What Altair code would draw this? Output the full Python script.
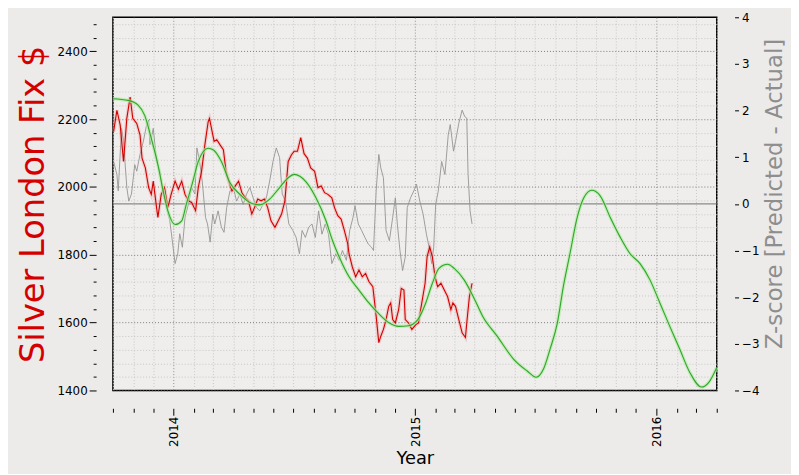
import altair as alt
import pandas as pd

# ---------------- data ----------------
red_dates = [
    "2013-10-02", "2013-10-07", "2013-10-12", "2013-10-17", "2013-10-22", "2013-10-27", "2013-10-31",
    "2013-11-06", "2013-11-11", "2013-11-14", "2013-11-19", "2013-11-24", "2013-11-28",
    "2013-12-01", "2013-12-06", "2013-12-08", "2013-12-13", "2013-12-18", "2013-12-23", "2013-12-28",
    "2014-01-03", "2014-01-08", "2014-01-13", "2014-01-18", "2014-01-23", "2014-01-28",
    "2014-02-03", "2014-02-07", "2014-02-12", "2014-02-17", "2014-02-22", "2014-02-24", "2014-02-28",
    "2014-03-03", "2014-03-07", "2014-03-12", "2014-03-17", "2014-03-21", "2014-03-25", "2014-03-30",
    "2014-04-04", "2014-04-09", "2014-04-14", "2014-04-19", "2014-04-24", "2014-04-29",
    "2014-05-03", "2014-05-08", "2014-05-13", "2014-05-18", "2014-05-23", "2014-05-28",
    "2014-06-03", "2014-06-08", "2014-06-13", "2014-06-18", "2014-06-23", "2014-06-28",
    "2014-07-02", "2014-07-07", "2014-07-12", "2014-07-17", "2014-07-22", "2014-07-27",
    "2014-08-02", "2014-08-07", "2014-08-12", "2014-08-17", "2014-08-22", "2014-08-28",
    "2014-09-01", "2014-09-06", "2014-09-11", "2014-09-16", "2014-09-21", "2014-09-23", "2014-09-28",
    "2014-10-03", "2014-10-08", "2014-10-13", "2014-10-18", "2014-10-23", "2014-10-29",
    "2014-11-03", "2014-11-07", "2014-11-10", "2014-11-14", "2014-11-18", "2014-11-22", "2014-11-25", "2014-11-28",
    "2014-12-02", "2014-12-07", "2014-12-11", "2014-12-15", "2014-12-17", "2014-12-22", "2014-12-27",
    "2015-01-02", "2015-01-06", "2015-01-11", "2015-01-16", "2015-01-19", "2015-01-23", "2015-01-27", "2015-01-31",
    "2015-02-04", "2015-02-09", "2015-02-14", "2015-02-19", "2015-02-24", "2015-02-27",
    "2015-03-03", "2015-03-08", "2015-03-13", "2015-03-18", "2015-03-20", "2015-03-24", "2015-03-28",
]
red_values = [
    2163, 2226, 2182, 2075, 2202, 2265, 2202,
    2187, 2153, 2085, 2056, 1998, 1978,
    2017, 1939, 1910, 1978, 1998, 1939, 1978,
    2017, 1993, 2017, 1978, 1959, 1954,
    1930, 1998, 2046, 2124, 2192, 2202, 2163,
    2134, 2139, 2124, 2110, 2046, 2017, 1988,
    2003, 2017, 1983, 1968, 1959, 1920,
    1939, 1964, 1959, 1964, 1939, 1900,
    1881, 1900, 1920, 1959, 2075, 2095,
    2105, 2105, 2145, 2098, 2085, 2056,
    2046, 1998, 2003, 1983, 1978, 1968,
    1939, 1915, 1905, 1871, 1833, 1803, 1764,
    1735, 1755, 1735, 1745, 1721, 1706,
    1619, 1541, 1560, 1580, 1609, 1648, 1658, 1609,
    1599, 1638, 1701, 1696, 1609, 1599, 1580,
    1594, 1599, 1658, 1716, 1794, 1823, 1794, 1735,
    1706, 1716, 1696, 1677, 1638, 1658,
    1648, 1609, 1570, 1556, 1599, 1677, 1716,
]

z_dates = [
    "2013-10-02", "2013-10-07", "2013-10-09", "2013-10-14", "2013-10-17", "2013-10-22", "2013-10-25", "2013-10-29",
    "2013-11-03", "2013-11-06", "2013-11-11", "2013-11-16", "2013-11-21", "2013-11-24", "2013-11-26",
    "2013-12-01", "2013-12-06", "2013-12-11", "2013-12-16", "2013-12-21", "2013-12-26", "2013-12-31",
    "2014-01-03", "2014-01-07", "2014-01-10", "2014-01-14", "2014-01-18", "2014-01-23", "2014-01-28",
    "2014-02-02", "2014-02-05", "2014-02-09", "2014-02-13", "2014-02-18", "2014-02-21", "2014-02-25",
    "2014-03-01", "2014-03-04", "2014-03-09", "2014-03-14", "2014-03-18", "2014-03-22", "2014-03-27",
    "2014-04-01", "2014-04-06", "2014-04-11", "2014-04-16", "2014-04-21", "2014-04-26",
    "2014-05-01", "2014-05-06", "2014-05-11", "2014-05-16", "2014-05-21", "2014-05-26", "2014-05-31",
    "2014-06-05", "2014-06-10", "2014-06-14", "2014-06-19", "2014-06-24", "2014-06-30",
    "2014-07-05", "2014-07-10", "2014-07-14", "2014-07-19", "2014-07-24", "2014-07-29",
    "2014-08-03", "2014-08-08", "2014-08-13", "2014-08-18", "2014-08-23", "2014-08-28",
    "2014-09-03", "2014-09-08", "2014-09-13", "2014-09-19", "2014-09-24", "2014-09-29",
    "2014-10-02", "2014-10-07", "2014-10-12", "2014-10-17", "2014-10-22", "2014-10-27", "2014-10-30",
    "2014-11-03", "2014-11-07", "2014-11-10", "2014-11-14", "2014-11-18", "2014-11-23", "2014-11-28",
    "2014-12-02", "2014-12-05", "2014-12-09", "2014-12-13", "2014-12-17", "2014-12-20", "2014-12-25", "2014-12-30",
    "2015-01-03", "2015-01-08", "2015-01-13", "2015-01-18", "2015-01-22", "2015-01-26", "2015-01-29",
    "2015-02-01", "2015-02-05", "2015-02-10", "2015-02-15", "2015-02-20", "2015-02-23", "2015-02-28",
    "2015-03-03", "2015-03-08", "2015-03-13", "2015-03-17", "2015-03-20", "2015-03-22", "2015-03-25", "2015-03-28",
]
z_values = [
    0.91, 0.63, 0.28, 1.62, 1.34, 0.35, 0.06, 0.21,
    0.84, 0.70, 1.06, 1.34, 1.70, 1.80, 1.27,
    1.62, 0.91, 0.70, 0.21, -0.08, -0.36, -0.93,
    -1.28, -1.07, -0.64, -0.93, -0.29, -0.01, 0.35,
    0.21, 1.20, 0.91, 0.49, -0.29, -0.43, -0.82,
    -0.22, -0.43, -0.15, -0.50, -0.61, -0.08, 0.28,
    0.35, 0.06, 0.21, -0.01, 0.21, 0.35,
    0.13, -0.08, -0.15, -0.01, 0.13, 0.49, 0.91,
    1.20, 0.99, 0.21, 0.06, -0.43, -0.57,
    -0.72, -1.07, -0.57, -0.72, -0.50, -0.43,
    -0.72, -0.15, -0.65, -0.43, -0.65, -1.28,
    -1.07, -1.21, -1.00, -1.21, -0.57, -0.29,
    -0.04, -0.43, -0.57, -0.72, -0.86, -0.93, -1.00,
    0.28, 1.06, 0.77, 0.56, -0.57, -0.79, -0.29,
    0.13, -0.43, -1.00, -1.43, -1.14, -0.08, 0.13, 0.28,
    0.42, 0.06, -0.22, -0.65, -0.93, -1.28, -0.93,
    -0.01, 0.28, 0.91, 0.63, 1.48, 1.70, 1.13,
    1.34, 1.73, 2.01, 1.87, 1.84, 0.63, -0.15, -0.43,
]

pred_dates = [
    "2013-10-01", "2013-10-24", "2013-11-08", "2013-11-18", "2013-11-28", "2013-12-08", "2013-12-16",
    "2013-12-23", "2014-01-03", "2014-01-13", "2014-01-20", "2014-01-30", "2014-02-07", "2014-02-22",
    "2014-03-02", "2014-03-14", "2014-03-27", "2014-04-11", "2014-04-26", "2014-05-11", "2014-05-26",
    "2014-06-10", "2014-06-23", "2014-07-02", "2014-07-20", "2014-08-04", "2014-08-19", "2014-08-29",
    "2014-09-08", "2014-09-23", "2014-10-08", "2014-10-23", "2014-11-08", "2014-11-23", "2014-12-07",
    "2014-12-22", "2015-01-05", "2015-01-17", "2015-01-27", "2015-02-06", "2015-02-19", "2015-03-01",
    "2015-03-16", "2015-03-31", "2015-04-13", "2015-05-05", "2015-05-30", "2015-06-19", "2015-07-03",
    "2015-07-14", "2015-07-24", "2015-08-04", "2015-08-13", "2015-08-23", "2015-09-03", "2015-09-13",
    "2015-09-25", "2015-10-08", "2015-10-23", "2015-11-07", "2015-11-22", "2015-12-07", "2015-12-22",
    "2016-01-06", "2016-01-21", "2016-02-05", "2016-02-20", "2016-03-09", "2016-03-20", "2016-04-01",
]
pred_values = [
    2260, 2255, 2241, 2211, 2143, 2066, 1988,
    1930, 1889, 1900, 1949, 2017, 2075, 2114,
    2109, 2075, 2012, 1978, 1954, 1947, 1964,
    1998, 2027, 2037, 2015, 1968, 1901, 1842,
    1794, 1735, 1696, 1658, 1624, 1599, 1589,
    1591, 1609, 1658, 1716, 1760, 1772, 1760,
    1726, 1672, 1619, 1560, 1492, 1458, 1439,
    1463, 1522, 1599, 1706, 1803, 1910, 1968,
    1990, 1973, 1910, 1852, 1803, 1774, 1726,
    1658, 1589, 1522, 1454, 1410, 1424, 1468,
]

price_ticks = [1400, 1440, 1480, 1520, 1560, 1600, 1640, 1680, 1720, 1760, 1800, 1840, 1880, 1920,
               1960, 2000, 2040, 2080, 2120, 2160, 2200, 2240, 2280, 2320, 2360, 2400, 2440, 2480]
z_ticks = [-4, -3, -2, -1, 0, 1, 2, 3, 4]
zero_line = [0]

assert len(red_dates) == len(red_values)
assert len(z_dates) == len(z_values)
assert len(pred_dates) == len(pred_values)

red_df = pd.DataFrame({"date": red_dates, "price": red_values})
z_df = pd.DataFrame({"date": z_dates, "z": z_values})
pred_df = pd.DataFrame({"date": pred_dates, "price": pred_values})
zero_df = pd.DataFrame({"z": zero_line})

FONT = "DejaVu Sans"
is_year = "utcmonth(datum.value) == 0"
is_major = "datum.value % 200 == 0"

x_scale = alt.Scale(
    type="utc",
    domain=[alt.DateTime(year=2013, month=10, date=1, utc=True),
            alt.DateTime(year=2016, month=4, date=1, utc=True)],
    nice=False,
)
x_axis = alt.Axis(
    title="Year", titleFont=FONT, titleFontSize=18, titleFontWeight="normal",
    titleColor="black", titlePadding=3,
    tickCount={"interval": "month", "step": 1},
    labelExpr=f"{is_year} ? utcFormat(datum.value, '%Y') : ''",
    labelAngle=270, labelFont=FONT, labelFontSize=12, labelColor="black", labelPadding=1,
    labelOverlap=False, labelFlush=False, labelBound=False,
    tickSize={"condition": {"test": is_year, "value": 7}, "value": 4},
    tickColor="black", tickWidth=1, domain=False, offset=18,
    grid=True, gridDash=[1, 2], gridWidth=1,
    gridColor={"condition": {"test": is_year, "value": "#8c8c8c"}, "value": "#c6c6c6"},
)
X = alt.X("date:T", scale=x_scale, axis=x_axis)

price_scale = alt.Scale(domain=[1400, 2500], nice=False, zero=False)
price_axis = alt.Axis(
    orient="left", values=price_ticks,
    labelExpr=f"{is_major} ? format(datum.value, 'd') : ''",
    labelFont=FONT, labelFontSize=12, labelColor="black", labelPadding=2,
    labelOverlap=False, labelBound=False,
    tickSize={"condition": {"test": is_major, "value": 7}, "value": 3},
    tickColor="black", domain=False, offset=17,
    grid=True, gridDash=[1, 2], gridWidth=1,
    gridColor={"condition": {"test": is_major, "value": "#7a7a7a"}, "value": "#c6c6c6"},
    title="Silver London Fix $", titleFont=FONT, titleFontSize=34, titleFontWeight="normal",
    titleColor="#d40000", titlePadding=7,
)

z_scale = alt.Scale(domain=[-4, 4], nice=False, zero=False)
z_axis = alt.Axis(
    orient="right", values=z_ticks, format="d",
    labelFont=FONT, labelFontSize=12, labelColor="black", labelPadding=3,
    tickSize=4, tickColor="black", domain=False, offset=18, grid=False,
    title="Z-score [Predicted - Actual]", titleFont=FONT, titleFontSize=23,
    titleFontWeight="normal", titleColor="#8e8e8e", titleAngle=270,
    titleBaseline="top", titlePadding=5, titleY=178,
)

zero_rule = alt.Chart(zero_df).mark_rule(color="#8a8a8a", strokeWidth=1.2).encode(
    y=alt.Y("z:Q", scale=z_scale, axis=z_axis)
)
z_line = alt.Chart(z_df).mark_line(color="#939393", strokeWidth=0.9).encode(
    x=X, y=alt.Y("z:Q", scale=z_scale, axis=z_axis)
)
right = alt.layer(zero_rule, z_line)

Yp = alt.Y("price:Q", scale=price_scale, axis=price_axis)
red_glow = alt.Chart(red_df).mark_line(color="#f08a8a", strokeWidth=3.5, opacity=0.35).encode(x=X, y=Yp)
red_line = alt.Chart(red_df).mark_line(color="#d00000", strokeWidth=1.1).encode(x=X, y=Yp)
pred_glow = alt.Chart(pred_df).mark_line(
    color="#b2eba4", strokeWidth=3.5, opacity=0.7, interpolate="monotone").encode(x=X, y=Yp)
pred_line = alt.Chart(pred_df).mark_line(
    color="#2fa52a", strokeWidth=1.1, interpolate="monotone").encode(x=X, y=Yp)
left = alt.layer(red_glow, red_line, pred_glow, pred_line)

chart = (
    alt.layer(right, left)
    .resolve_scale(y="independent")
    .properties(
        width=610, height=377,
        autosize=alt.AutoSizeParams(type="none"),
        padding={"left": 106, "top": 7, "right": 75, "bottom": 82},
    )
    .configure(background="#ecebe9", font=FONT)
    .configure_view(stroke="black", strokeWidth=1.5, fill="#efeeec")
)

chart.save("out.html", embed_options={"renderer": "svg", "actions": False})
